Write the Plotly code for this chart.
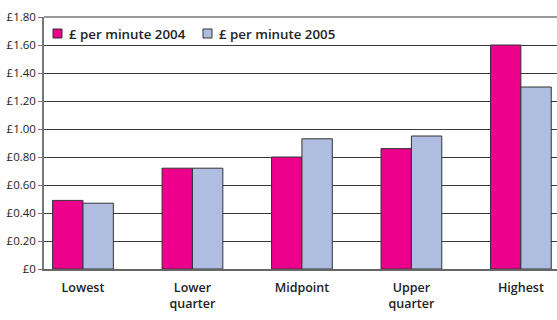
import plotly.graph_objects as go

categories = ["Lowest", "Lower<br>quarter", "Midpoint", "Upper<br>quarter", "Highest"]
per_minute_2004 = [0.49, 0.72, 0.80, 0.86, 1.60]
per_minute_2005 = [0.47, 0.72, 0.93, 0.95, 1.30]
series_names = ["£ per minute 2004", "£ per minute 2005"]
series_colors = ["#EC008C", "#AFBDE0"]
tick_values = [0, 0.2, 0.4, 0.6, 0.8, 1.0, 1.2, 1.4, 1.6, 1.8]
tick_labels = ["£0", "£0.20", "£0.40", "£0.60", "£0.80", "£1.00",
               "£1.20", "£1.40", "£1.60", "£1.80"]

font_family = "Open Sans, Liberation Sans, Arial, sans-serif"
outline = dict(color="#333333", width=1)

fig = go.Figure()
for name, color, values in zip(series_names, series_colors,
                               [per_minute_2004, per_minute_2005]):
    fig.add_trace(go.Bar(x=categories, y=values, name=name,
                         marker=dict(color=color, line=outline)))

fig.update_layout(
    width=557, height=320,
    margin=dict(l=44, r=0, t=17, b=51),
    paper_bgcolor="white", plot_bgcolor="white",
    barmode="group", bargap=0.445, bargroupgap=0,
    font=dict(family=font_family, color="#222222", size=11),
    showlegend=False,
)
fig.update_xaxes(
    range=[-0.356, 4.33], showgrid=False, ticks="",
    showline=True, linecolor="#666666", linewidth=1.5,
    tickfont=dict(size=12.5, color="#222222", weight=600),
    ticklabelstandoff=6,
)
fig.update_yaxes(
    range=[0, 1.8], tickvals=tick_values, ticktext=tick_labels,
    showgrid=True, gridcolor="#3a3a3a", gridwidth=1,
    showline=True, linecolor="#777777", linewidth=1.5,
    ticks="outside", ticklen=4, tickcolor="#777777",
    mirror=False, zeroline=False,
    tickfont=dict(size=11.5, color="#222222"),
)
# grey frame along the top of the plotting area
fig.add_shape(type="line", xref="paper", yref="paper", x0=0, x1=1, y0=1, y1=1,
              line=dict(color="#777777", width=1.5))

# key: small swatches with bold labels in the top-left of the plot
plot_w, plot_h = 557 - 44, 320 - 17 - 51
key_x = [53, 203]
for (px, name, color) in zip(key_x, series_names, series_colors):
    x0 = (px - 44) / plot_w
    x1 = (px + 9 - 44) / plot_w
    y0 = (269 - 38) / plot_h
    y1 = (269 - 29) / plot_h
    fig.add_shape(type="rect", xref="paper", yref="paper",
                  x0=x0, x1=x1, y0=y0, y1=y1,
                  fillcolor=color, line=dict(color="#333333", width=1))
    fig.add_annotation(xref="paper", yref="paper",
                       x=(px + 14 - 44) / plot_w, y=(269 - 33.5) / plot_h,
                       xanchor="left", yanchor="middle", showarrow=False,
                       text=name,
                       font=dict(size=13.3, color="#222222", weight=600))

fig.write_html("out.html")
